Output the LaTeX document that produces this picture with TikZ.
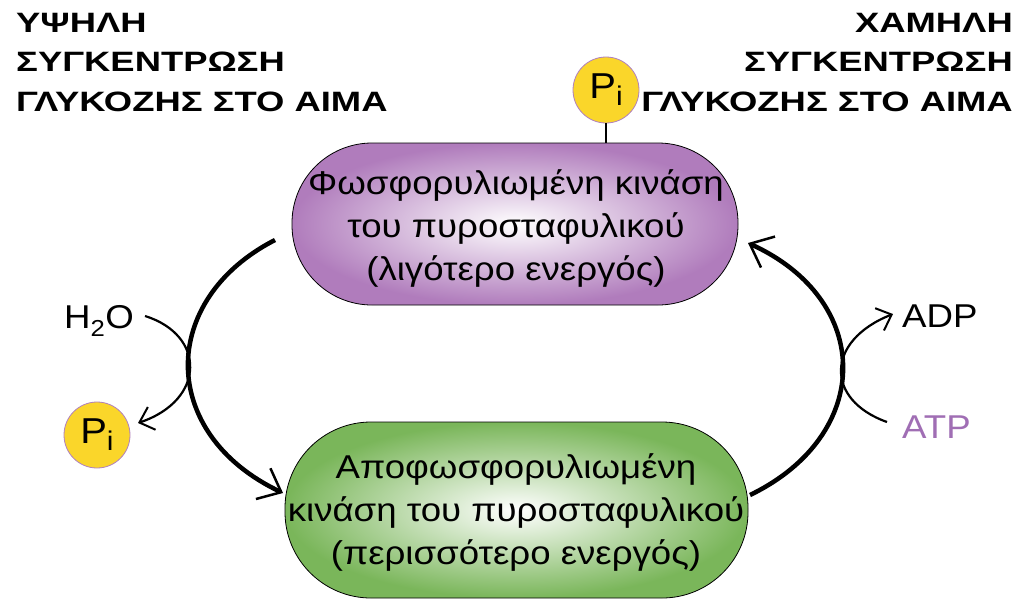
\documentclass[tikz,border=0pt]{standalone}
\usepackage{fontspec}
\setmainfont{Liberation Sans}
\newfontfamily\headfont[FakeStretch=1.3]{Liberation Sans}
\newfontfamily\bodyfont[FakeStretch=1.11]{Liberation Sans}
\usetikzlibrary{arrows.meta}
\definecolor{purpbox}{RGB}{176,124,188}
\definecolor{greenbox}{RGB}{122,182,90}
\definecolor{piyellow}{RGB}{250,214,42}
\definecolor{piborder}{RGB}{176,128,190}
\definecolor{atpcol}{RGB}{160,110,180}
\newcommand{\pisym}{\bodyfont\fontsize{36}{40}\selectfont P\raisebox{-7pt}{\fontsize{27}{30}\selectfont i}}
\tikzset{
  enzyme/.style={align=center, font=\bodyfont\fontsize{33}{43}\selectfont, inner sep=0pt},
  heading/.style={font=\headfont\bfseries\fontsize{28}{39.5}\selectfont, inner sep=0pt},
  pinode/.style={circle, draw=piborder, line width=0.8pt, fill=piyellow, minimum size=66pt, inner sep=0pt},
  lbl/.style={font=\bodyfont\fontsize{33}{36}\selectfont, inner sep=0pt},
  bigarrow/.style={line width=4.5pt, -{Straight Barb[length=20pt,width=34pt,line width=2.5pt]}},
  smallarrow/.style={line width=2.2pt, -{Straight Barb[length=13pt,width=24pt,line width=2pt]}},
}
\begin{document}
\begin{tikzpicture}[x=1pt,y=-1pt]
\useasboundingbox (0,0) rectangle (1030,606);
% headings
\node[heading, anchor=north west, align=left] (hl) at (16,13) {ΥΨΗΛΗ\\ΣΥΓΚΕΝΤΡΩΣΗ\\ΓΛΥΚΟΖΗΣ ΣΤΟ ΑΙΜΑ};
\node[heading, anchor=north east, align=right] (hr) at (1013,13) {ΧΑΜΗΛΗ\\ΣΥΓΚΕΝΤΡΩΣΗ\\ΓΛΥΚΟΖΗΣ ΣΤΟ ΑΙΜΑ};
% enzyme boxes
\draw[line width=0.8pt, rounded corners=80pt, shading=radial, inner color=white, outer color=purpbox]
  (292,143) rectangle (738,305);
\node[enzyme] (top) at (516,228) {Φωσφορυλιωμένη κινάση\\του πυροσταφυλικού\\(λιγότερο ενεργός)};
\draw[line width=0.8pt, rounded corners=86pt, shading=radial, inner color=white, outer color=greenbox]
  (285,422) rectangle (748,598);
\node[enzyme] (bot) at (516,512) {Αποφωσφορυλιωμένη\\κινάση του πυροσταφυλικού\\(περισσότερο ενεργός)};
% Pi on top
\node[pinode] (pitop) at (606,90) {\pisym};
\coordinate (boxtop) at (606,143);
\draw[line width=2pt] (pitop.south) -- (boxtop);
% left Pi
\node[pinode] (pileft) at (97,435) {\pisym};
% labels
\node[lbl] (h2o) at (99,321) {H\textsubscript{2}O};
\node[lbl, anchor=west] (adp) at (902,316) {ADP};
\node[lbl, anchor=west, text=atpcol] (atp) at (902,427) {ATP};
% coordinates for cycle arrows
\coordinate (ls) at (275,240);
\coordinate (le) at (283,493);
\coordinate (rs) at (750,495);
\coordinate (re) at (748,243);
\coordinate (hs) at (145,316);
\coordinate (he) at (138,423);
\coordinate (as) at (887,422);
\coordinate (ae) at (893,314);
% big arrows
\draw[bigarrow] (ls) .. controls (158,300) and (158,434) .. (le);
\draw[bigarrow] (rs) .. controls (874,435) and (874,300) .. (re);
% small arrows
\draw[smallarrow] (hs) .. controls (206,335) and (206,400) .. (he);
\draw[smallarrow] (as) .. controls (825,400) and (825,341) .. (ae);
\end{tikzpicture}
\end{document}
